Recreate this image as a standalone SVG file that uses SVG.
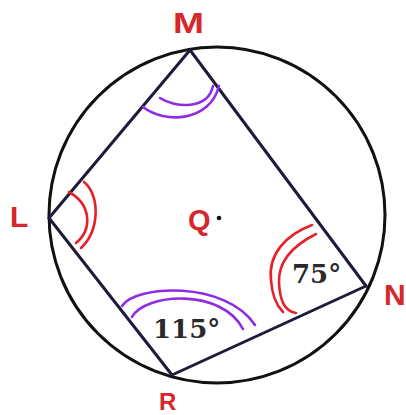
<svg xmlns="http://www.w3.org/2000/svg" width="406" height="415" viewBox="0 0 406 415">
<style>
.lbl{font-family:"Liberation Sans",Arial,sans-serif;font-weight:bold;fill:#d6272d}
.num{font-family:"DejaVu Serif","Liberation Serif",serif;font-weight:bold;fill:#2a2a2a;font-size:26px}
.side{stroke:#1c1b3a;stroke-width:3;fill:none;stroke-linecap:round}
.pur{stroke:#8f2be3;stroke-width:2.6;fill:none;stroke-linecap:round}
.red{stroke:#e3222a;stroke-width:2.6;fill:none;stroke-linecap:round}
</style>
<rect width="406" height="415" fill="#ffffff"/>
<g id="circle">
<circle cx="217" cy="215" r="168" fill="none" stroke="#111" stroke-width="3"/>
</g>
<g id="connectors">
<line class="side" x1="190" y1="50" x2="49" y2="218"/>
<line class="side" x1="49" y1="218" x2="172" y2="375"/>
<line class="side" x1="172" y1="375" x2="366" y2="286"/>
<line class="side" x1="366" y1="286" x2="190" y2="50"/>
</g>
<g id="node-M">
<text class="lbl" x="173" y="33" font-size="29" textLength="31" lengthAdjust="spacingAndGlyphs">M</text>
<path class="pur" d="M143,107 C165,124 210,122 219,86"/>
<path class="pur" d="M160,98 C175,108 208,110 213,86"/>
</g>
<g id="node-L">
<text class="lbl" x="10" y="227" font-size="30">L</text>
<path class="red" d="M84,182 C100,195 100,230 81,248"/>
<path class="red" d="M69,192 C92,205 92,230 76,243"/>
</g>
<g id="node-N">
<text class="lbl" x="384" y="305" font-size="30">N</text>
<path class="red" d="M312,225 C285,235 268,255 271,280 C272,295 276,305 283,312"/>
<path class="red" d="M316,234 C292,246 278,262 279,283 C280,300 284,311 296,313"/>
<text class="num" x="292" y="283">75°</text>
</g>
<g id="node-R">
<text class="lbl" x="159" y="410" font-size="24">R</text>
<path class="pur" d="M122,306 C135,285 225,280 255,325"/>
<path class="pur" d="M132,317 C145,293 222,288 243,329"/>
<text class="num" x="153" y="338">115°</text>
</g>
<g id="node-Q">
<text class="lbl" x="188" y="230" font-size="29">Q</text>
<circle cx="219" cy="218" r="2.3" fill="#111"/>
</g>
</svg>
